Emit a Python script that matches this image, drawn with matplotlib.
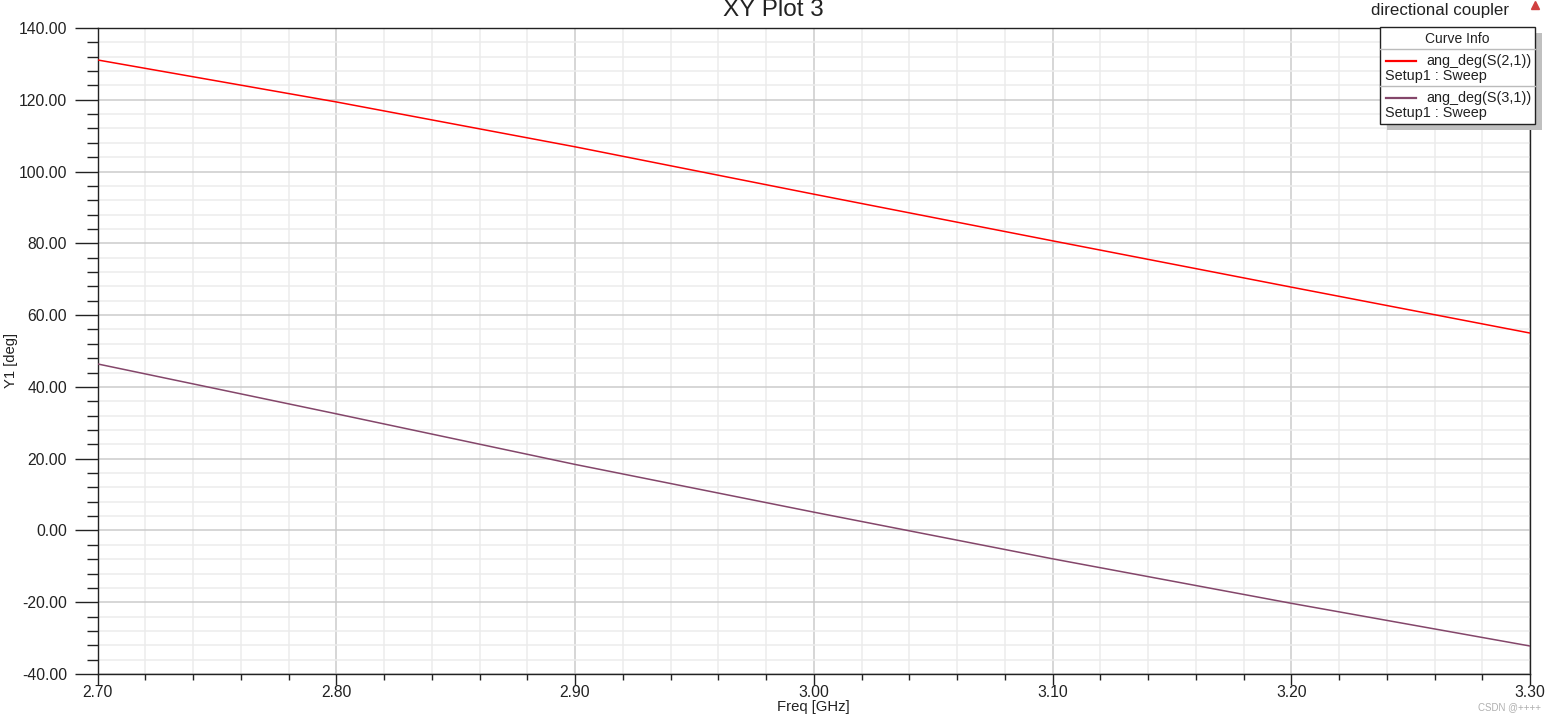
import matplotlib
matplotlib.use("Agg")
import matplotlib.pyplot as plt
from matplotlib.ticker import MultipleLocator, FormatStrFormatter
from matplotlib.patches import Rectangle
from matplotlib.lines import Line2D

plt.rcParams['font.family'] = ['Liberation Sans', 'DejaVu Sans']

freq = [2.70, 2.80, 2.90, 3.00, 3.10, 3.20, 3.30]
s21 = [131.1, 119.4, 106.9, 93.7, 80.7, 67.8, 55.0]
s31 = [46.4, 32.5, 18.4, 5.1, -7.9, -20.3, -32.2]
series_labels = ["ang_deg(S(2,1))", "ang_deg(S(3,1))"]
setup_label = "Setup1 : Sweep"
colors = ["#ff0000", "#84466a"]

W, H = 1557, 721
fig = plt.figure(figsize=(W / 100, H / 100), dpi=100)
L, R, T, B = 97.5, 1530, 28, 674
ax = fig.add_axes([L / W, 1 - B / H, (R - L) / W, (B - T) / H])


def fx(x):
    return x / W


def fy(y):
    return 1 - y / H


ax.plot(freq, s21, color=colors[0], lw=1.1, zorder=3)
ax.plot(freq, s31, color=colors[1], lw=1.1, zorder=3)

ax.set_xlim(2.70, 3.30)
ax.set_ylim(-40, 140)
ax.xaxis.set_major_locator(MultipleLocator(0.1))
ax.xaxis.set_minor_locator(MultipleLocator(0.02))
ax.yaxis.set_major_locator(MultipleLocator(20))
ax.yaxis.set_minor_locator(MultipleLocator(4))
ax.xaxis.set_major_formatter(FormatStrFormatter('%.2f'))
ax.yaxis.set_major_formatter(FormatStrFormatter('%.2f'))

ax.grid(which='major', color='#cbcbcb', lw=1.1, zorder=0)
ax.grid(which='minor', color='#ececec', lw=1.1, zorder=0)
ax.set_axisbelow(True)

ax.tick_params(axis='y', which='major', direction='out', length=16.5, width=1.0,
               labelsize=11.3, pad=5.5, colors='#222222')
ax.tick_params(axis='y', which='minor', direction='out', length=8, width=1.0, color='#222222')
ax.tick_params(axis='x', which='major', direction='out', length=8, width=1.0,
               labelsize=11.3, pad=0, colors='#222222')
ax.tick_params(axis='x', which='minor', direction='out', length=4, width=1.0, color='#222222')
for sp in ax.spines.values():
    sp.set_color('#222222')
    sp.set_linewidth(1.0)

ax.set_xlabel("Freq [GHz]", fontsize=10.7, labelpad=0, color='#222222')
ax.yaxis.set_label_coords(fx(11), fy(368), transform=fig.transFigure)
ax.set_ylabel("Y1 [deg]", fontsize=10.7, color='#222222', va='center')
fig.text(fx(773), fy(10), "XY Plot 3", fontsize=17.5, ha='center', va='center', color='#222222')

# top-right note
fig.text(fx(1440), fy(10), "directional coupler", fontsize=12.2, ha='center', va='center', color='#222222')
fig.add_artist(Line2D([fx(1535)], [fy(5)], marker='^', color='#d04040', markersize=6,
                      transform=fig.transFigure, ls='none'))

# legend box (Curve Info)
bx0, bx1, by0, by1 = 1380, 1535, 27, 124
fig.add_artist(Rectangle((fx(bx0 + 7), fy(by1 + 6)), fx(bx1 - bx0), (by1 - by0) / H,
                         transform=fig.transFigure, facecolor='#c0c0c0', edgecolor='none', zorder=5))
fig.add_artist(Rectangle((fx(bx0), fy(by1)), fx(bx1 - bx0), (by1 - by0) / H,
                         transform=fig.transFigure, facecolor='white', edgecolor='#222222', lw=1.0, zorder=6))
fig.text(fx((bx0 + bx1) / 2), fy(39), "Curve Info", fontsize=10, ha='center', va='center', zorder=7,
         color='#222222')
for ysep in (49, 86):
    fig.add_artist(Line2D([fx(bx0), fx(bx1)], [fy(ysep), fy(ysep)], color='#bbbbbb', lw=1.0,
                          transform=fig.transFigure, zorder=7))
for i, (lab, c) in enumerate(zip(series_labels, colors)):
    yl = 61 + i * 37
    fig.add_artist(Line2D([fx(1386), fx(1416)], [fy(yl), fy(yl)], color=c, lw=1.6,
                          transform=fig.transFigure, zorder=7))
    fig.text(fx(1426), fy(yl), lab, fontsize=10.4, ha='left', va='center', zorder=7, color='#222222')
    fig.text(fx(1385), fy(yl + 15), setup_label, fontsize=10.4, ha='left', va='center', zorder=7,
             color='#222222')

fig.text(fx(1510), fy(707), "CSDN @++++", fontsize=7, ha='center', va='center', color='#b0b0b0')

fig.savefig("out.png", dpi=100, facecolor='white')
